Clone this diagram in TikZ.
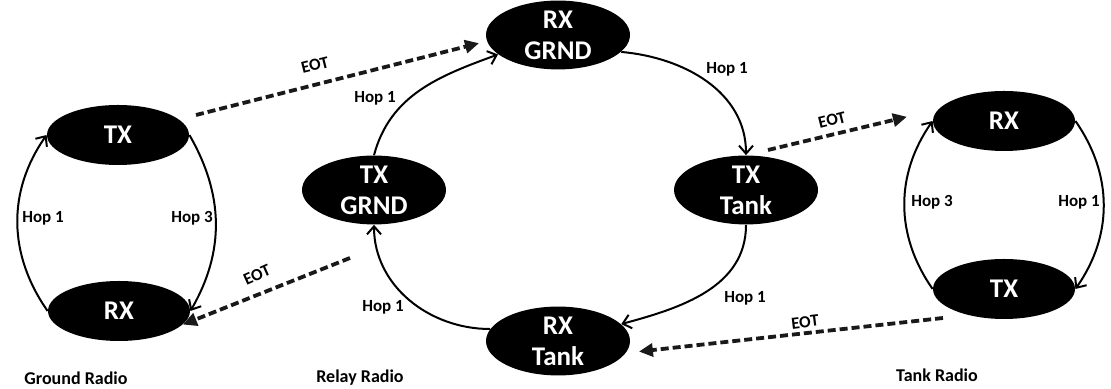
\documentclass[tikz,border=0pt]{standalone}
\usepackage{fontspec}
\setmainfont{Carlito}
\usetikzlibrary{shapes.geometric,arrows.meta}

\begin{document}
\begin{tikzpicture}[x=0.5pt,y=0.5pt,
        radio/.style={ellipse,fill=black,text=white,inner sep=0pt,align=center,font=\fontsize{13.5}{15.5}\selectfont\bfseries,minimum width=71pt,minimum height=30pt},
        relay/.style={radio,minimum width=72pt,minimum height=34pt},
        hop/.style={line width=1pt,-{Straight Barb[length=4pt,width=7pt]}},
        eot/.style={line width=1.9pt,black!90,dash pattern=on 4pt off 2pt,-{Triangle[length=7pt,width=6.5pt]}},
        lbl/.style={font=\fontsize{8.5}{10}\selectfont\bfseries}]
            \useasboundingbox (0,0) rectangle (1111,389);
            \node (gtx) at (118, 254) [radio] {TX};
            \node (grx) at (119, 78) [radio] {RX};
            \node (rxg) at (558, 354) [relay] {RX\\GRND};
            \node (txg) at (374, 199) [relay] {TX\\GRND};
            \node (txt) at (746, 199) [relay] {TX\\Tank};
            \node (rxt) at (558, 48) [relay] {RX\\Tank};
            \node (trx) at (1004, 268) [radio] {RX};
            \node (ttx) at (1004, 100) [radio] {TX};
            \coordinate (e1) at (196, 274);
            \coordinate (e2) at (350, 131);
            \coordinate (e3) at (768, 239);
            \coordinate (e4) at (943, 71);
            \draw[hop] (grx.west) to[out=125,in=235] (gtx.west);
            \draw[hop] (gtx.east) to[out=-60,in=60] (grx.east);
            \draw[hop] (txg.north) to[out=75,in=200] (rxg.198);
            \draw[hop] (rxg.-15) to[out=-5,in=90] (txt.north);
            \draw[hop] (txt.south) to[out=-90,in=15] (rxt.15);
            \draw[hop] (rxt.170) to[out=180,in=-90] (txg.south);
            \draw[hop] (ttx.west) to[out=125,in=235] (trx.west);
            \draw[hop] (trx.east) to[out=-55,in=55] (ttx.east);
            \draw[eot,shorten >=4pt] (e1) -- (rxg.185);
            \draw[eot] (e2) -- (grx.-12);
            \draw[eot,shorten >=16pt] (e3) -- (trx.170);
            \draw[eot,shorten >=6.5pt] (e4) -- (rxt.-10);
            \node (h1) at (43, 171) [lbl] {Hop 1};
            \node (h2) at (192, 171) [lbl] {Hop 3};
            \node (h3) at (375, 291) [lbl] {Hop 1};
            \node (h4) at (727, 320) [lbl] {Hop 1};
            \node (h5) at (745, 91) [lbl] {Hop 1};
            \node (h6) at (383, 82) [lbl] {Hop 1};
            \node (h7) at (932, 187) [lbl] {Hop 3};
            \node (h8) at (1079, 187) [lbl] {Hop 1};
            \node (t1) at (315, 324) [lbl,rotate=14] {EOT};
            \node (t2) at (257, 114) [lbl,rotate=24] {EOT};
            \node (t3) at (832, 269) [lbl,rotate=14] {EOT};
            \node (t4) at (805, 67) [lbl,rotate=7] {EOT};
            \node (r1) at (76, 11) [lbl,font=\fontsize{9}{10}\selectfont\bfseries] {Ground Radio};
            \node (r2) at (360, 11) [lbl,font=\fontsize{9}{10}\selectfont\bfseries] {Relay Radio};
            \node (r3) at (937, 14) [lbl,font=\fontsize{9}{10}\selectfont\bfseries] {Tank Radio};
        \end{tikzpicture}
\end{document}
